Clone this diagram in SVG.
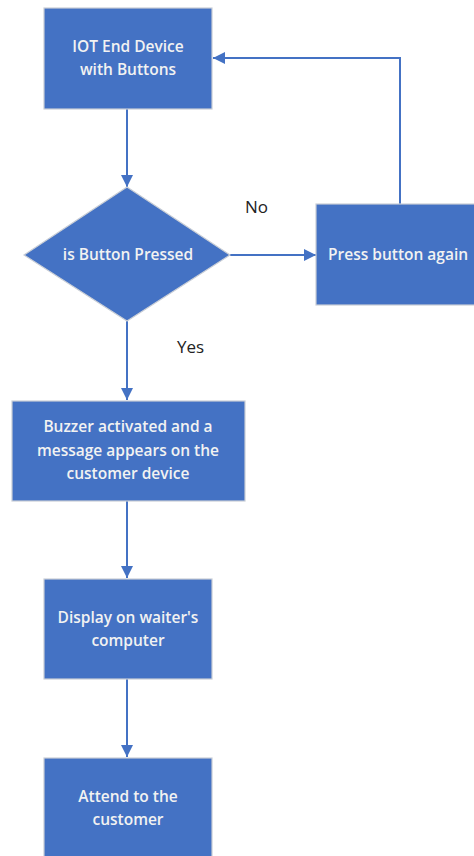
<svg xmlns="http://www.w3.org/2000/svg" width="474" height="856" viewBox="0 0 474 856">
  <style>
    .node { fill: #4472C4; stroke: #C9CED6; stroke-width: 1.2; }
    .label { font-family: "Open Sans", "Noto Sans", sans-serif; font-size: 15.5px; font-weight: 600; fill: #F2F2F2; text-anchor: middle; }
    .note { font-family: "Open Sans", "Noto Sans", sans-serif; font-size: 17px; fill: #222222; }
    .edge { fill: none; stroke: #4472C4; stroke-width: 2; }
  </style>
  <defs>
    <marker id="arrow" viewBox="0 0 10 10" refX="10" refY="5" markerWidth="6" markerHeight="6" markerUnits="strokeWidth" orient="auto">
      <path d="M0,0 L10,5 L0,10 Z" fill="#4472C4"/>
    </marker>
  </defs>
  <rect width="474" height="856" fill="#FFFFFF"/>

  <g id="connectors">
    <path class="edge" d="M127,109 V187" marker-end="url(#arrow)"/>
    <path class="edge" d="M230,255 H316" marker-end="url(#arrow)"/>
    <path class="edge" d="M400,204 V58 H213" marker-end="url(#arrow)"/>
    <path class="edge" d="M127,321 V400" marker-end="url(#arrow)"/>
    <path class="edge" d="M127,501 V578" marker-end="url(#arrow)"/>
    <path class="edge" d="M127,679 V757" marker-end="url(#arrow)"/>
    <text class="note" x="245" y="213">No</text>
    <text class="note" x="177" y="353">Yes</text>
  </g>

  <g id="device">
    <rect class="node" x="44" y="8" width="168" height="101"/>
    <text class="label" x="128" y="52">IOT End Device</text>
    <text class="label" x="128" y="75">with Buttons</text>
  </g>

  <g id="decision">
    <polygon class="node" points="127,187 230,255 127,321 24,255"/>
    <text class="label" x="128" y="260">is Button Pressed</text>
  </g>

  <g id="retry">
    <rect class="node" x="316" y="204" width="170" height="101"/>
    <text class="label" x="328" y="260" style="text-anchor:start">Press button again</text>
  </g>

  <g id="buzzer">
    <rect class="node" x="12" y="401" width="233" height="100"/>
    <text class="label" x="128" y="432">Buzzer activated and a</text>
    <text class="label" x="128" y="456">message appears on the</text>
    <text class="label" x="128" y="479">customer device</text>
  </g>

  <g id="display">
    <rect class="node" x="44" y="579" width="168" height="100"/>
    <text class="label" x="128" y="623">Display on waiter's</text>
    <text class="label" x="128" y="646">computer</text>
  </g>

  <g id="attend">
    <rect class="node" x="44" y="758" width="168" height="110"/>
    <text class="label" x="128" y="802">Attend to the</text>
    <text class="label" x="128" y="825">customer</text>
  </g>
</svg>
